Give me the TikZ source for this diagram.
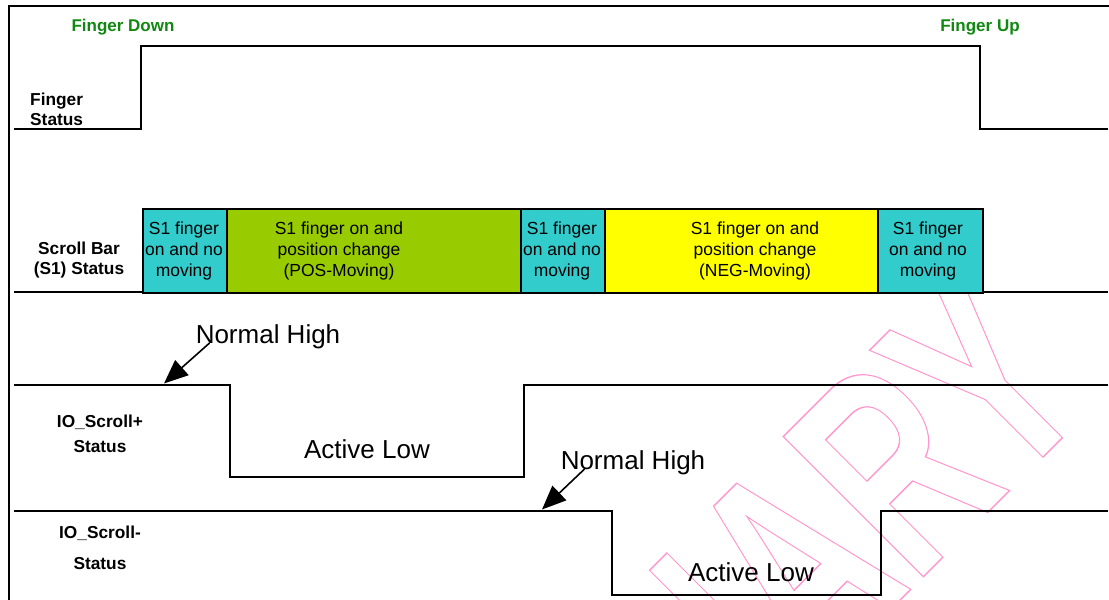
\documentclass[tikz,border=0pt]{standalone}
\usepackage{fontspec}
\setmainfont{Liberation Sans}
\usetikzlibrary{arrows.meta,calc}
\definecolor{fgreen}{RGB}{17,136,17}
\definecolor{sbcyan}{RGB}{51,204,204}
\definecolor{sbgreen}{RGB}{153,204,0}
\definecolor{sbyellow}{RGB}{255,255,0}
\definecolor{wmpink}{RGB}{255,150,205}
\newcommand{\outlinetext}[1]{\special{pdf:literal direct 1 Tr 1.4 w}#1\special{pdf:literal direct 0 Tr}}
\tikzset{
  wave/.style={line width=1.7pt, line join=miter},
  sbox/.style={draw, line width=1.7pt, inner sep=0pt, minimum height=84pt, anchor=north west},
  sbtext/.style={inner sep=0pt, align=center, font=\fontsize{17.5}{21}\selectfont},
  lbl/.style={inner sep=0pt, font=\bfseries\fontsize{17.3}{20}\selectfont},
  big/.style={inner sep=0pt, anchor=base, font=\fontsize{26}{30}\selectfont},
  evt/.style={inner sep=0pt, anchor=base, text=fgreen, font=\bfseries\fontsize{17}{20}\selectfont},
  pointer/.style={line width=1.6pt, -{Triangle[length=24pt,width=20pt]}},
  wmark/.style={anchor=base east, rotate=45, xscale=0.667, inner sep=0pt, text=wmpink,
                font=\bfseries\fontsize{288}{300}\selectfont},
}
\begin{document}
\begin{tikzpicture}[x=1pt,y=-1pt]
\useasboundingbox (0,0) rectangle (1109,600);
\fill[white] (0,0) rectangle (1109,600);
% watermark (pink outline of the word, drawn behind everything)
\coordinate (wmpos) at (1098,402);
\begin{scope}
\clip (0,0) rectangle (1109,600);
\node[wmark] (wm) at (wmpos) {\outlinetext{PRELIMINARY}};
\end{scope}
% frame
\draw[line width=2pt] (9,600) -- (9,6) -- (1109,6);
% event labels
\node[evt] (fdown) at (123,31) {Finger Down};
\node[evt] (fup) at (980,31) {Finger Up};
% finger status
\node[lbl, anchor=base west] (fs1) at (30,105) {Finger};
\node[lbl, anchor=base west] (fs2) at (30,125) {Status};
\draw[wave] (14,129) -- (141,129) -- (141,46) -- (980,46) -- (980,129) -- (1108,129);
% scroll bar status
\node[lbl, anchor=base] (sb1) at (79,254) {Scroll Bar};
\node[lbl, anchor=base] (sb2) at (79,274) {(S1) Status};
\draw[wave] (14,292) -- (142,292);
\draw[wave] (982,292) -- (1108,292);
\node[sbox, fill=sbcyan, minimum width=84pt] (b1) at (142,208) {};
\node[sbox, fill=sbgreen, minimum width=294pt] (b2) at (226,208) {};
\node[sbox, fill=sbcyan, minimum width=84pt] (b3) at (520,208) {};
\node[sbox, fill=sbyellow, minimum width=273pt] (b4) at (604,208) {};
\node[sbox, fill=sbcyan, minimum width=105pt] (b5) at (877,208) {};
\node[sbtext] (t1) at (184,251) {S1 finger\\on and no\\moving};
\node[sbtext] (t2) at (339,251) {S1 finger on and\\position change\\(POS-Moving)};
\node[sbtext] (t3) at (562,251) {S1 finger\\on and no\\moving};
\node[sbtext] (t4) at (755,251) {S1 finger on and\\position change\\(NEG-Moving)};
\node[sbtext] (t5) at (928,251) {S1 finger\\on and no\\moving};
% IO_Scroll+
\node[lbl, anchor=base] (ip1) at (100,427) {IO\_Scroll+};
\node[lbl, anchor=base] (ip2) at (100,452) {Status};
\draw[wave] (14,385) -- (230,385) -- (230,477) -- (524,477) -- (524,385) -- (1108,385);
\node[big] (nh1) at (268,343) {Normal High};
\node[big] (al1) at (367,458) {Active Low};
\coordinate (nh1s) at ($(nh1.base west)+(14,0)$);
\coordinate (nh1e) at (164,383.5);
\draw[pointer] (nh1s) -- (nh1e);
% IO_Scroll-
\node[lbl, anchor=base] (im1) at (100,538) {IO\_Scroll-};
\node[lbl, anchor=base] (im2) at (100,569) {Status};
\draw[wave] (14,511) -- (612,511) -- (612,595) -- (881,595) -- (881,511) -- (1108,511);
\node[big] (nh2) at (633,469) {Normal High};
\node[big] (al2) at (751,581) {Active Low};
\coordinate (nh2s) at ($(nh2.base west)+(24,0)$);
\coordinate (nh2e) at (542,509.5);
\draw[pointer] (nh2s) -- (nh2e);
\end{tikzpicture}
\end{document}
